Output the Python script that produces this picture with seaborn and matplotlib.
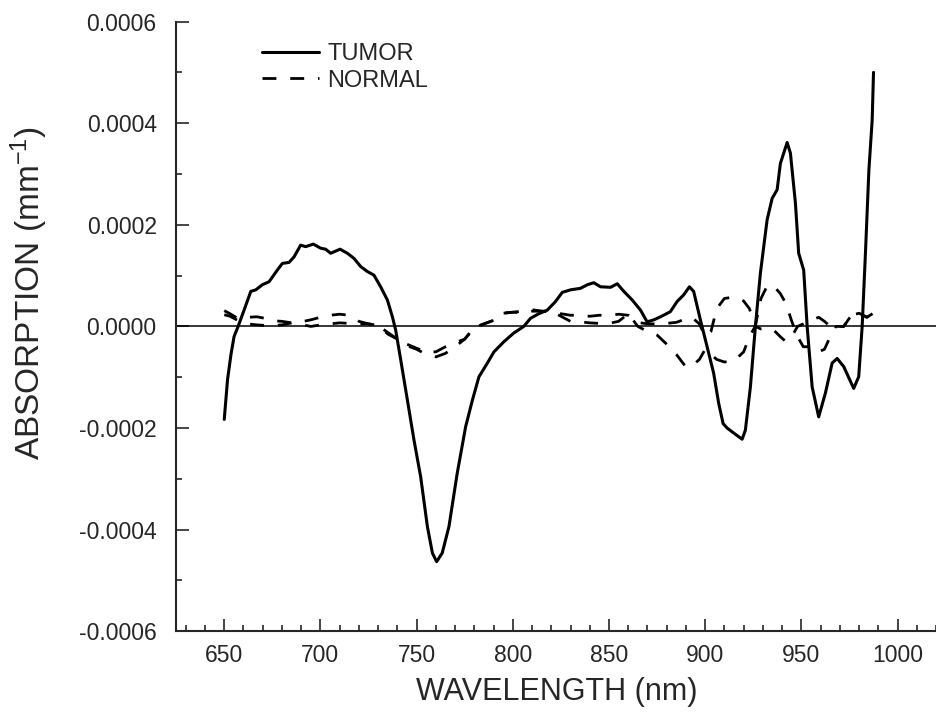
import numpy as np
import pandas as pd
import seaborn as sns
import matplotlib.pyplot as plt

# values in units of 1e-4 mm^-1
tumor_nm = [650, 651.7, 653.5, 655.1, 657.2, 660.3, 663.8, 666.4, 669.8, 673.3,
            677.6, 680.2, 683.7, 686.3, 689.7, 692.3, 696.3, 700.1, 702.7, 705.3,
            710.2, 714, 717.4, 720.9, 724.4, 727.8, 731.3, 734.8, 737.4, 739.1,
            741.7, 745.2, 748.6, 752.1, 755.6, 758.2, 760.4, 763.3, 766.8, 771.1,
            775.5, 779, 782.4, 786.8, 790.2, 795.4, 800.5, 805.7, 809.2, 813.5,
            817.9, 822.2, 825.7, 830, 835.2, 838.7, 842.1, 845.6, 850.8, 854.3,
            857.7, 862.1, 866.4, 869.8, 873.3, 876.8, 881.9, 885.4, 888.8, 891.8,
            894, 897.5, 901, 904.4, 907, 909.3, 911.4, 914.9, 919.2, 920.9,
            923.5, 926.1, 928.7, 932.2, 934.8, 937.4, 939.1, 942.6, 944.3, 946.9,
            948.6, 951.2, 953, 955.6, 959, 962.5, 966, 968.6, 972, 977.2,
            979.8, 981.6, 983.3, 985.1, 986.8, 987.5]
tumor_val = [-1.83, -1.05, -0.55, -0.2, 0.0, 0.32, 0.69, 0.72, 0.82, 0.88,
             1.11, 1.24, 1.26, 1.37, 1.60, 1.57, 1.62, 1.54, 1.52, 1.44,
             1.52, 1.44, 1.34, 1.18, 1.08, 1.01, 0.78, 0.52, 0.19, -0.07,
             -0.65, -1.45, -2.23, -2.96, -3.94, -4.46, -4.63, -4.46, -3.94, -2.89,
             -1.97, -1.45, -0.99, -0.72, -0.50, -0.30, -0.13, 0.0, 0.16, 0.25,
             0.32, 0.49, 0.67, 0.72, 0.75, 0.82, 0.86, 0.78, 0.77, 0.84,
             0.69, 0.52, 0.32, 0.09, 0.13, 0.19, 0.29, 0.49, 0.62, 0.78,
             0.69, 0.13, -0.40, -0.92, -1.51, -1.91, -2.00, -2.10, -2.22, -2.04,
             -1.19, 0.0, 1.05, 2.10, 2.52, 2.69, 3.21, 3.62, 3.41, 2.43,
             1.44, 1.11, 0.0, -1.19, -1.78, -1.31, -0.72, -0.63, -0.79, -1.22,
             -0.99, 0.0, 1.44, 3.08, 4.06, 5.0]

normal_nm = [650, 653, 657, 662, 667, 671, 676, 680, 685, 690,
             695, 700, 705, 710, 715, 720, 725, 730, 735, 740,
             745, 750, 755, 760, 765, 770, 775, 780, 785, 790,
             795, 800, 805, 810, 815, 820, 825, 830, 835, 840,
             845, 850, 855, 860, 865, 870, 875, 880, 885, 890,
             893, 897, 900, 903, 906, 910, 915, 920, 923, 926,
             929, 932, 935, 939, 942, 945, 948, 951, 955, 959,
             962, 965, 968, 972, 976, 980, 984, 987]
normal_a = [0.31, 0.25, 0.16, 0.18, 0.19, 0.16, 0.11, 0.10, 0.07, 0.09,
            0.13, 0.18, 0.22, 0.24, 0.22, 0.10, 0.05, 0.02, -0.12, -0.25,
            -0.35, -0.43, -0.50, -0.50, -0.40, -0.32, -0.25, -0.02, 0.05, 0.12,
            0.26, 0.28, 0.30, 0.33, 0.30, 0.28, 0.25, 0.22, 0.22, 0.20,
            0.22, 0.22, 0.24, 0.22, 0.08, 0.05, 0.05, 0.06, 0.08, 0.15,
            0.18, 0.05, -0.2, -0.1, 0.35, 0.55, 0.58, 0.50, 0.35, 0.0,
            0.55, 0.78, 0.82, 0.65, 0.45, 0.1, -0.2, -0.4, -0.4, -0.5,
            -0.45, -0.2, 0.0, 0.0, 0.22, 0.26, 0.18, 0.25]
normal_b = [0.23, 0.2, 0.12, 0.05, 0.03, 0.02, 0.02, 0.03, 0.07, 0.04,
            0.0, 0.03, 0.05, 0.07, 0.06, 0.05, 0.05, 0.02, -0.15, -0.25,
            -0.38, -0.45, -0.55, -0.60, -0.53, -0.40, -0.25, -0.02, 0.05, 0.12,
            0.26, 0.28, 0.27, 0.30, 0.30, 0.30, 0.20, 0.10, 0.09, 0.07,
            0.06, 0.06, 0.10, 0.25, 0.0, -0.1, -0.17, -0.35, -0.55, -0.8,
            -0.78, -0.65, -0.45, -0.55, -0.65, -0.7, -0.68, -0.5, -0.2, 0.0,
            -0.05, -0.05, -0.05, -0.2, -0.3, -0.2, 0.0, 0.05, 0.12, 0.18,
            0.1, 0.0, 0.0, 0.0, 0.22, 0.26, 0.18, 0.25]

tumor = pd.DataFrame({"nm": tumor_nm, "abs": np.array(tumor_val) * 1e-4})
norm_a = pd.DataFrame({"nm": normal_nm, "abs": np.array(normal_a) * 1e-4})
norm_b = pd.DataFrame({"nm": normal_nm, "abs": np.array(normal_b) * 1e-4})

sns.set_style("ticks")
plt.rcParams['font.family'] = ['Liberation Sans', 'DejaVu Sans']
plt.rcParams['mathtext.default'] = 'regular'

fig = plt.figure(figsize=(9.37, 7.19), dpi=100)
ax = fig.add_axes([0.188, 0.122, 0.812, 0.848])

ax.axhline(0, color='black', lw=1.1, zorder=1)
sns.lineplot(data=tumor, x="nm", y="abs", ax=ax, color='black', lw=2.2,
             sort=False, label="TUMOR")
sns.lineplot(data=norm_a, x="nm", y="abs", ax=ax, color='black', lw=2.0,
             sort=False, linestyle=(0, (5, 5)), label="NORMAL")
sns.lineplot(data=norm_b, x="nm", y="abs", ax=ax, color='black', lw=2.0,
             sort=False, linestyle=(0, (5, 5)), legend=False)

ax.set_xlim(625, 1020.5)
ax.set_ylim(-0.0006, 0.0006)
ax.set_xticks(np.arange(650, 1001, 50))
ax.set_xticks(np.arange(630, 1021, 10), minor=True)
ax.set_yticks(np.arange(-0.0006, 0.00061, 0.0002))
ax.set_yticks(np.arange(-0.0005, 0.00051, 0.0002), minor=True)
ax.yaxis.set_major_formatter(plt.FuncFormatter(lambda v, p: f"{v:.4f}".replace("-0.0000", "0.0000")))

ax.tick_params(which='major', direction='in', length=9, width=1.2, labelsize=16.5)
ax.tick_params(axis='x', which='major', pad=9)
ax.tick_params(axis='y', which='major', pad=14)
ax.tick_params(which='minor', direction='in', length=4.5, width=1.2)
sns.despine(ax=ax)
for s in ['left', 'bottom']:
    ax.spines[s].set_linewidth(1.5)

ax.set_xlabel("WAVELENGTH (nm)", fontsize=22, labelpad=7)
ax.set_ylabel("ABSORPTION (mm$^{-1}$)", fontsize=24)
ax.yaxis.set_label_coords(-0.166, 0.555)

ax.legend(loc='upper left', bbox_to_anchor=(0.085, 1.0), frameon=False,
          fontsize=17, handlelength=2.4, handletextpad=0.35, labelspacing=0.2)

fig.savefig("out.png", dpi=100)
